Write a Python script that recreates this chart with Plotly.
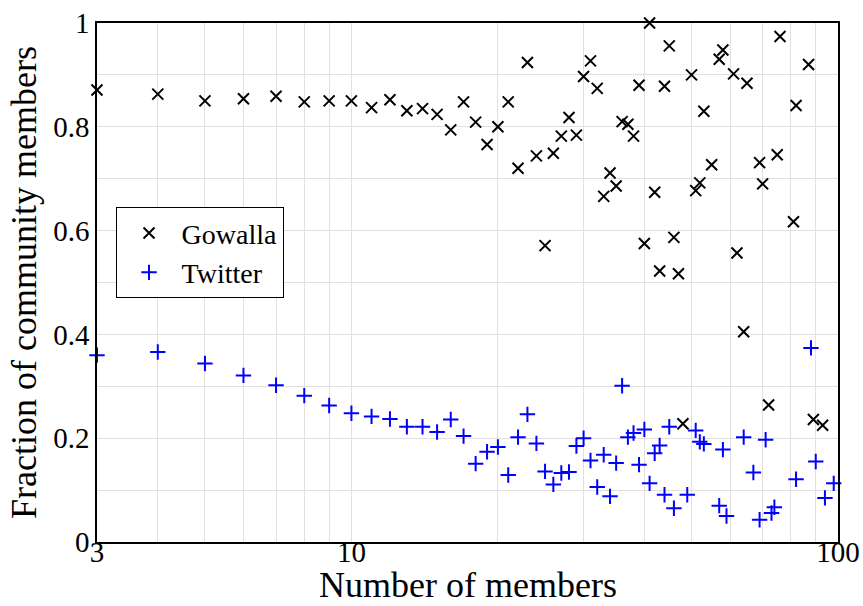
import plotly.graph_objects as go

gowalla_x = [3, 4, 5, 6, 7, 8, 9, 10, 11, 12, 13, 14, 15, 16, 17, 18, 19, 20, 21, 22,
             23, 24, 25, 26, 27, 28, 29, 30, 31, 32, 33, 34, 35, 36, 37, 38, 39, 40, 41, 42,
             43, 44, 45, 46, 47, 48, 50, 51, 52, 53, 55, 57, 58, 61, 62, 64, 65, 69, 70, 72,
             75, 76, 81, 82, 87, 89, 93]
gowalla_y = [0.871, 0.863, 0.850, 0.854, 0.859, 0.848, 0.850, 0.850, 0.837, 0.852,
             0.831, 0.835, 0.824, 0.794, 0.848, 0.809, 0.766, 0.800, 0.848, 0.720,
             0.924, 0.744, 0.571, 0.749, 0.782, 0.818, 0.784, 0.897, 0.927, 0.874,
             0.666, 0.711, 0.686, 0.810, 0.805, 0.782, 0.880, 0.575, 1.0, 0.674,
             0.522, 0.878, 0.956, 0.587, 0.517, 0.228,
             0.900, 0.677, 0.692, 0.830, 0.727, 0.930, 0.948, 0.902, 0.557, 0.405,
             0.884, 0.731, 0.690, 0.264, 0.746, 0.974, 0.617, 0.841, 0.920, 0.236, 0.225]

twitter_x = [3, 4, 5, 6, 7, 8, 9, 10, 11, 12, 13, 14, 15, 16, 17, 18, 19, 20, 21, 22,
             23, 24, 25, 26, 27, 28, 29, 30, 31, 32, 33, 34, 35, 36, 37, 38, 39, 40, 41, 42,
             43, 44, 45, 46, 49, 51, 52, 53, 57, 58, 59, 64, 67, 69, 71, 73, 74, 82, 88, 90,
             94, 98]
twitter_y = [0.360, 0.366, 0.344, 0.321, 0.302, 0.282, 0.263, 0.248, 0.242, 0.237,
             0.222, 0.222, 0.212, 0.236, 0.204, 0.151, 0.174, 0.183, 0.129, 0.202,
             0.246, 0.190, 0.136, 0.111, 0.133, 0.135, 0.185, 0.200, 0.157, 0.106,
             0.168, 0.088, 0.152, 0.301, 0.202, 0.210, 0.149, 0.217, 0.113, 0.171,
             0.186, 0.091, 0.222, 0.065,
             0.091, 0.215, 0.193, 0.189, 0.070, 0.178, 0.050, 0.202, 0.134, 0.043,
             0.197, 0.056, 0.067, 0.121, 0.374, 0.155, 0.085, 0.113]

x_tick_vals = [3, 10, 100]
x_tick_text = ["3", "10", "100"]
x_minor_grid = [4, 5, 6, 7, 8, 9, 20, 30, 40, 50, 60, 70, 80, 90]
y_tick_vals = [0, 0.2, 0.4, 0.6, 0.8, 1]
y_tick_text = ["0", "0.2", "0.4", "0.6", "0.8", "1"]
x_title = "Number of members"
y_title = "Fraction of community members"

FONT = "Liberation Serif, Times New Roman, serif"
GRID = "#e0e0e0"

fig = go.Figure()
fig.add_trace(go.Scatter(
    x=gowalla_x, y=gowalla_y, mode="markers", name="Gowalla",
    marker=dict(symbol="x-thin", size=11, color="black",
                line=dict(color="black", width=2)),
    cliponaxis=False,
))
fig.add_trace(go.Scatter(
    x=twitter_x, y=twitter_y, mode="markers", name="Twitter",
    marker=dict(symbol="cross-thin", size=11, color="#0000ff",
                line=dict(color="#0000ff", width=2)),
    cliponaxis=False,
))

fig.update_layout(
    width=863, height=606,
    margin=dict(l=97, r=25, t=23, b=64),
    paper_bgcolor="white", plot_bgcolor="white",
    font=dict(family=FONT, size=29, color="black"),
    showlegend=True,
    legend=dict(
        x=0.025, y=0.645, xanchor="left", yanchor="top",
        bgcolor="white", bordercolor="black", borderwidth=1,
        font=dict(family=FONT, size=28, color="black"),
        itemwidth=55, tracegroupgap=0,
    ),
    xaxis=dict(
        type="log", range=[0.47712125, 2.0], automargin=False,
        tickvals=x_tick_vals, ticktext=x_tick_text,
        showgrid=True, gridcolor=GRID, gridwidth=1,
        minor=dict(tickvals=x_minor_grid, showgrid=True, gridcolor=GRID, gridwidth=1, ticks=""),
        ticks="", ticklen=0, showline=True, linecolor="black", linewidth=1.5, mirror=True,
        zeroline=False, ticklabelstandoff=-17,
        tickfont=dict(family=FONT, size=29),
    ),
    yaxis=dict(
        range=[0, 1], automargin=False,
        tickvals=y_tick_vals, ticktext=y_tick_text,
        showgrid=True, gridcolor=GRID, gridwidth=1,
        minor=dict(dtick=0.1, tick0=0, showgrid=True, gridcolor=GRID, gridwidth=1, ticks=""),
        ticks="", ticklen=0, showline=True, linecolor="black", linewidth=1.5, mirror=True,
        zeroline=False,
        tickfont=dict(family=FONT, size=29),
        title=dict(text=y_title, font=dict(family=FONT, size=36), standoff=6),
    ),
    annotations=[dict(
        text=x_title, xref="paper", yref="paper", x=0.5, y=0,
        xanchor="center", yanchor="middle", yshift=-43, showarrow=False,
        font=dict(family=FONT, size=36, color="black"),
    )],
)

fig.write_html("out.html")
